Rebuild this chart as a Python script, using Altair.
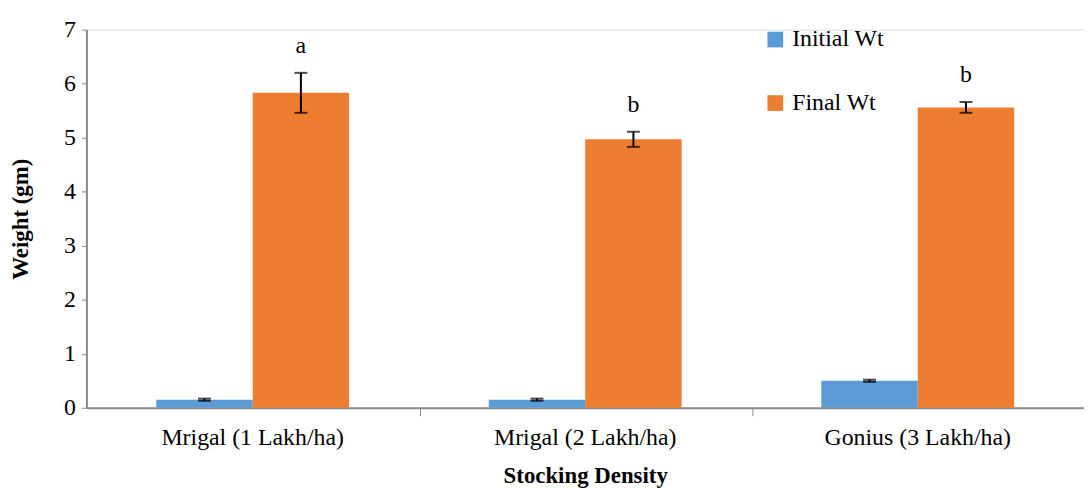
import altair as alt
import pandas as pd

categories = ["Mrigal (1 Lakh/ha)", "Mrigal (2 Lakh/ha)", "Gonius (3 Lakh/ha)"]
series = ["Initial Wt", "Final Wt"]
initial = [0.15, 0.15, 0.50]
initial_err = [0.02, 0.02, 0.02]
final = [5.83, 4.97, 5.56]
final_err = [0.37, 0.14, 0.10]
letters = ["a", "b", "b"]
colors = ["#5B9BD5", "#ED7D31"]

rows = []
for i, c in enumerate(categories):
    rows.append({"cat": c, "series": series[0], "val": initial[i], "err": initial_err[i], "letter": ""})
    rows.append({"cat": c, "series": series[1], "val": final[i], "err": final_err[i], "letter": letters[i]})
df = pd.DataFrame(rows)
df["lo"] = df["val"] - df["err"]
df["hi"] = df["val"] + df["err"]

FONT = "Liberation Serif"
FS = 24

x = alt.X("cat:N", sort=categories, title="Stocking Density",
          scale=alt.Scale(paddingInner=0.42, paddingOuter=0.21),
          axis=alt.Axis(labelAngle=0, labelFont=FONT, labelFontSize=FS, labelColor="#000",
                        labelLimit=400, labelPadding=10, bandPosition=1.37, tickSize=8,
                        tickColor="#898989", domainColor="#898989", domainWidth=2,
                        titleFont=FONT, titleFontSize=23, titleFontWeight="bold",
                        titleColor="#000", titlePadding=15))
xo = alt.XOffset("series:N", sort=series, scale=alt.Scale(domain=series))
y = alt.Y("val:Q", title="Weight (gm)",
          scale=alt.Scale(domain=[0, 7], nice=False),
          axis=alt.Axis(values=[0, 1, 2, 3, 4, 5, 6, 7], format="d", grid=False, labelFont=FONT,
                        labelFontSize=FS, labelColor="#000", tickSize=5, tickColor="#898989",
                        domainColor="#898989", domainWidth=2, labelPadding=6,
                        titleFont=FONT, titleFontSize=23, titleFontWeight="bold",
                        titleColor="#000", titlePadding=31))

bars = alt.Chart(df).mark_bar().encode(
    x=x, xOffset=xo, y=y,
    color=alt.Color("series:N", sort=series, title=None,
                    scale=alt.Scale(domain=series, range=colors),
                    legend=alt.Legend(orient="none", legendX=682, legendY=-2,
                                      symbolType="square", symbolSize=250,
                                      symbolStrokeWidth=0, labelFont=FONT,
                                      labelFontSize=FS, labelColor="#000",
                                      rowPadding=40, labelOffset=5)),
)

rule = alt.Chart(df).mark_rule(color="black", strokeWidth=2).encode(
    x=x, xOffset=xo, y="lo:Q", y2="hi:Q")
cap_lo = alt.Chart(df).mark_tick(color="black", thickness=2, size=13, orient="horizontal").encode(
    x=x, xOffset=xo, y="lo:Q")
cap_hi = alt.Chart(df).mark_tick(color="black", thickness=2, size=13, orient="horizontal").encode(
    x=x, xOffset=xo, y="hi:Q")
text = alt.Chart(df).mark_text(font=FONT, fontSize=FS, color="black", dy=-20,
                               baseline="alphabetic").encode(
    x=x, xOffset=xo, y="hi:Q", text="letter:N")

chart = alt.layer(bars, rule, cap_lo, cap_hi, text).properties(
    width=1005, height=381,
    autosize=alt.AutoSizeParams(type="none"),
    padding={"left": 79, "top": 20, "right": 0, "bottom": 79},
).configure_view(stroke=None).configure(background="white")

chart.save("out.html", embed_options={"renderer": "svg", "actions": False})
